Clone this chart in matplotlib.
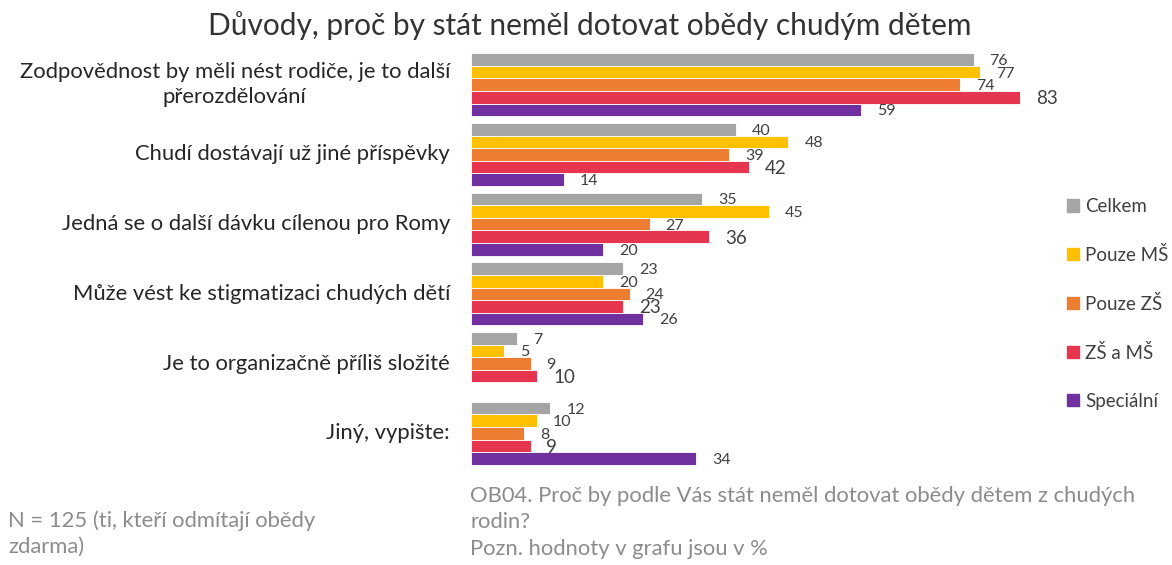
import numpy as np
import matplotlib
matplotlib.use("Agg")
import matplotlib.pyplot as plt

plt.rcParams['font.family'] = ['Lato', 'DejaVu Sans']

categories = ["Zodpovědnost by měli nést rodiče, je to další\npřerozdělování",
              "Chudí dostávají už jiné příspěvky",
              "Jedná se o další dávku cílenou pro Romy",
              "Může vést ke stigmatizaci chudých dětí",
              "Je to organizačně příliš složité",
              "Jiný, vypište:"]
series = ["Celkem", "Pouze MŠ", "Pouze ZŠ", "ZŠ a MŠ", "Speciální"]
celkem = [76, 40, 35, 23, 7, 12]
pouze_ms = [77, 48, 45, 20, 5, 10]
pouze_zs = [74, 39, 27, 24, 9, 8]
zs_a_ms = [83, 42, 36, 23, 10, 9]
specialni = [59, 14, 20, 26, np.nan, 34]
values = [celkem, pouze_ms, pouze_zs, zs_a_ms, specialni]
colors = ["#A5A5A5", "#FFC000", "#ED7D31", "#E6354F", "#7030A0"]

title = "Důvody, proč by stát neměl dotovat obědy chudým dětem"
note_left = "N = 125 (ti, kteří odmítají obědy\nzdarma)"
note_right = "OB04. Proč by podle Vás stát neměl dotovat obědy dětem z chudých\nrodin?\nPozn. hodnoty v grafu jsou v %"

W, H = 1172, 565
fig = plt.figure(figsize=(W / 100, H / 100), dpi=100)
ax = fig.add_axes([471 / W, (H - 466) / H, 582 / W, 414 / H])

y = np.arange(len(categories))
bh = 0.18
for k, (name, vals, c) in enumerate(zip(series, values, colors)):
    pos = y + (k - 2) * bh
    ax.barh(pos, vals, height=bh, color=c, edgecolor="white", linewidth=0.6, label=name)
    for p, v in zip(pos, vals):
        if np.isnan(v):
            continue
        ax.annotate(f"{v:.0f}", xy=(v, p), xytext=(11.5, -1), textcoords="offset points",
                    ha="left", va="center", fontsize=13.5 if name == "ZŠ a MŠ" else 11.5,
                    color="#404040")

ax.set_xlim(0, 88)
ax.set_ylim(5.47, -0.47)
ax.set_xticks([])
ax.set_yticks([])
for s in ax.spines.values():
    s.set_visible(False)

for yi, lab in zip(y, categories):
    ax.text(-21 / 6.61, yi, lab, ha="right", va="center", multialignment="center",
            fontsize=15.8, color="#262626", linespacing=1.3)

fig.text(590 / W, 1 - 26 / H, title, ha="center", va="center", fontsize=21.5,
         color="#333333")

handles = [plt.Rectangle((0, 0), 1, 1, color=c) for c in colors]
fig.legend(handles, series, loc="upper left", bbox_to_anchor=(1050 / W, 1 - 181 / H),
           frameon=False, fontsize=13.5, handlelength=0.65, handleheight=0.65,
           handletextpad=0.33, labelspacing=1.65, labelcolor="#404040")

fig.text(8 / W, 1 - 510 / H, note_left, ha="left", va="top", fontsize=15.8,
         color="#8C8C8C", linespacing=1.4)
fig.text(470 / W, 1 - 486 / H, note_right, ha="left", va="top", fontsize=15.8,
         color="#8C8C8C", linespacing=1.4)

fig.savefig("out.png", dpi=100)
